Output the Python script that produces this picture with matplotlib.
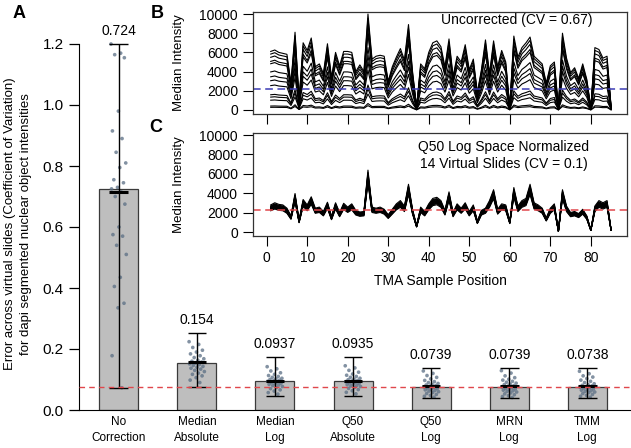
import numpy as np
import matplotlib
matplotlib.use('Agg')
import matplotlib.pyplot as plt

plt.rcParams['font.family'] = ['Liberation Sans', 'DejaVu Sans']

################### panel A data: CV across virtual slides ##################
methods = ['No\nCorrection', 'Median\nAbsolute', 'Median\nLog', 'Q50\nAbsolute',
           'Q50\nLog', 'MRN\nLog', 'TMM\nLog']
mean_cv = [0.724, 0.154, 0.0937, 0.0935, 0.0739, 0.0739, 0.0738]
mean_labels = ['0.724', '0.154', '0.0937', '0.0935', '0.0739', '0.0739', '0.0738']
err_low = [0.073, 0.076, 0.046, 0.046, 0.038, 0.038, 0.038]
err_high = [1.20, 0.251, 0.175, 0.175, 0.139, 0.139, 0.139]
mid_mark = [0.714, 0.156, 0.095, 0.095, 0.080, 0.080, 0.080]
target_cv = 0.0739

pts_none = [1.20, 1.17, 1.165, 1.155, 0.98, 0.915, 0.89, 0.845, 0.81, 0.795, 0.755,
            0.745, 0.73, 0.725, 0.715, 0.70, 0.675, 0.60, 0.575, 0.57, 0.54, 0.51,
            0.435, 0.405, 0.35, 0.335, 0.178, 0.073]
pts_med_abs = [0.224, 0.215, 0.205, 0.196, 0.19, 0.184, 0.178, 0.172, 0.168, 0.163,
               0.16, 0.157, 0.154, 0.151, 0.149, 0.146, 0.143, 0.14, 0.137, 0.134,
               0.13, 0.126, 0.121, 0.117, 0.112, 0.106, 0.098, 0.09]
pts_med_log = [0.142, 0.135, 0.128, 0.122, 0.117, 0.113, 0.11, 0.107, 0.104, 0.102,
               0.1, 0.098, 0.096, 0.094, 0.092, 0.09, 0.088, 0.086, 0.084, 0.082,
               0.08, 0.077, 0.074, 0.07, 0.066, 0.062, 0.057, 0.052]
pts_q50_abs = [0.145, 0.138, 0.13, 0.124, 0.118, 0.114, 0.11, 0.107, 0.104, 0.101,
               0.099, 0.097, 0.095, 0.093, 0.091, 0.089, 0.087, 0.085, 0.083, 0.081,
               0.079, 0.077, 0.074, 0.071, 0.067, 0.063, 0.058, 0.053]
pts_q50_log = [0.128, 0.12, 0.113, 0.107, 0.102, 0.097, 0.093, 0.09, 0.087, 0.084,
               0.082, 0.08, 0.078, 0.076, 0.074, 0.072, 0.07, 0.068, 0.066, 0.064,
               0.062, 0.06, 0.057, 0.054, 0.051, 0.048, 0.045, 0.042]
pts_mrn_log = [0.129, 0.121, 0.112, 0.106, 0.101, 0.098, 0.094, 0.091, 0.088, 0.085,
               0.083, 0.08, 0.078, 0.075, 0.073, 0.071, 0.069, 0.067, 0.065, 0.063,
               0.061, 0.059, 0.056, 0.053, 0.05, 0.047, 0.044, 0.041]
pts_tmm_log = [0.127, 0.119, 0.112, 0.108, 0.103, 0.098, 0.094, 0.09, 0.086, 0.083,
               0.081, 0.079, 0.077, 0.075, 0.073, 0.071, 0.069, 0.067, 0.065, 0.063,
               0.061, 0.059, 0.057, 0.054, 0.051, 0.048, 0.045, 0.042]
points = [pts_none, pts_med_abs, pts_med_log, pts_q50_abs, pts_q50_log, pts_mrn_log, pts_tmm_log]

################### panel B / C data: median intensity per TMA position ##################
positions = list(range(1, 86))
# brightest virtual slide (uncorrected), other slides are scaled copies of it
uncorr_top = [6100, 6250, 6000, 5900, 5800, 2800, 8100, 1000, 7000, 6200,
              7500, 4500, 4800, 3800, 6900, 3400, 6000, 4600, 6100, 6100,
              6000, 4000, 4700, 4000, 10000, 5300, 5600, 5700, 5600, 3000,
              4500, 5500, 6400, 5200, 8900, 4000, 300, 4800, 4300, 6000,
              7000, 7200, 6600, 4500, 7400, 3500, 5600, 5000, 6800, 4200,
              5300, 1800, 4200, 7300, 3800, 7200, 4500, 6200, 5000, 300,
              7700, 5500, 6500, 7000, 7600, 5600, 5200, 4800, 2800, 4600,
              5000, 200, 8000, 5400, 3900, 4400, 3300, 4800, 3200, 200,
              6500, 6300, 5400, 5600, 300]
slide_scale = [1.0, 0.955, 0.9, 0.83, 0.79, 0.65, 0.567, 0.5, 0.416, 0.26,
               0.22, 0.167, 0.067, 0.045]
uncorr_median = 2200

q50_profile = [2500, 2700, 2550, 2500, 2200, 1500, 3550, 1100, 3000, 2500,
               3250, 2200, 2300, 1900, 2750, 1450, 2700, 1800, 2650, 2300,
               2600, 2000, 1850, 1900, 5700, 2300, 2200, 2300, 2100, 1600,
               2100, 2600, 2900, 2400, 4400, 2100, 600, 2300, 1900, 2600,
               3100, 3200, 2900, 2000, 3700, 1800, 2600, 2200, 2700, 1900,
               2500, 1000, 2000, 2200, 2900, 3900, 2100, 2600, 2500, 1000,
               4100, 2400, 2900, 3100, 4400, 2700, 2500, 2200, 1300, 2200,
               2600, 100, 3900, 2400, 1800, 1900, 1700, 2100, 1500, 200,
               2400, 2900, 2700, 2900, 200]
q50_gain = [0.88, 0.91, 0.93, 0.95, 0.96, 0.98, 0.99, 1.0, 1.01, 1.02,
            1.04, 1.06, 1.08, 1.12]
q50_median = 2300

W, H = 631, 448
def px_box(l, t, r, b):
    return [l / W, 1 - b / H, (r - l) / W, (b - t) / H]

fig = plt.figure(figsize=(W / 100, H / 100), dpi=100)

################### A: bar chart ##################
axA = fig.add_axes(px_box(79, 13.5, 631, 410))
x = np.arange(1, len(methods) + 1)
axA.bar(x, mean_cv, width=0.5, color='#bebebe', edgecolor='#3a3a3a', linewidth=0.9, zorder=2)
for xi, vals in zip(x, points):
    n = len(vals)
    jit = ((np.arange(n) * 0.618) % 1 - 0.5) * 0.2
    axA.scatter(xi + jit, vals, s=7, color='#5a6e84', alpha=0.75, edgecolors='none', zorder=3)
axA.vlines(x, err_low, err_high, color='black', lw=1, zorder=4)
axA.hlines(err_low, x - 0.12, x + 0.12, color='black', lw=1, zorder=4)
axA.hlines(err_high, x - 0.12, x + 0.12, color='black', lw=1, zorder=4)
axA.hlines(mid_mark, x - 0.12, x + 0.12, color='black', lw=2.2, zorder=4)
axA.axhline(target_cv, color='#e0474c', ls=(0, (4, 3)), lw=1, zorder=5)
for xi, top, lab in zip(x, err_high, mean_labels):
    axA.annotate(lab, (xi, top), xytext=(0, 6.5), textcoords='offset points',
                 ha='center', va='baseline', fontsize=10)

axA.set_xlim(0.49, 7.56)
axA.set_ylim(0, 1.3)
axA.set_yticks(np.arange(0, 1.21, 0.2))
axA.set_yticklabels(['%.1f' % v for v in np.arange(0, 1.21, 0.2)], fontsize=11)
axA.set_xticks(x)
axA.set_xticklabels(methods, fontsize=8.5, linespacing=1.5)
axA.tick_params(axis='x', length=0, pad=4)
axA.tick_params(axis='y', length=7.5, width=0.9, pad=3.5)
axA.spines['top'].set_visible(False)
axA.spines['right'].set_visible(False)
axA.spines['left'].set_bounds(0, 1.2)
axA.patch.set_alpha(0)
axA.set_ylabel('Error across virtual slides (Coefficient of Variation)\n'
               'for dapi segmented nuclear object intensities', fontsize=9.5, linespacing=1.4)
axA.yaxis.set_label_coords(-0.085, 0.47)

################### B: uncorrected medians ##################
axB = fig.add_axes(px_box(253.3, 11.7, 627.3, 114.3))
for s in slide_scale:
    axB.plot(positions, np.array(uncorr_top) * s, color='black', lw=0.8)
axB.axhline(uncorr_median, color='#3c3cb4', ls=(0, (5, 3)), lw=1.1)
axB.set_xlim(-3.3, 89.0)
axB.set_ylim(-450, 10240)
axB.set_xticks(range(0, 81, 10))
axB.set_xticklabels([])
axB.set_yticks(range(0, 10001, 2000))
axB.tick_params(labelsize=10, length=7, pad=4)
axB.set_ylabel('Median Intensity', fontsize=9.5)
axB.yaxis.set_label_coords(-0.183, 0.5)
axB.text(0.906, 0.92, 'Uncorrected (CV = 0.67)', transform=axB.transAxes,
         ha='right', va='center', fontsize=10)

################### C: Q50 log space normalized ##################
axC = fig.add_axes(px_box(253.3, 132.7, 627.3, 236))
for g in q50_gain:
    axC.plot(positions, np.array(q50_profile) * g, color='black', lw=0.8)
axC.axhline(q50_median, color='#e0474c', ls=(0, (5, 3)), lw=1.1)
axC.set_xlim(-3.3, 89.0)
axC.set_ylim(-400, 10240)
axC.set_xticks(range(0, 81, 10))
axC.set_yticks(range(0, 10001, 2000))
axC.tick_params(labelsize=10, length=7, pad=4)
axC.set_ylabel('Median Intensity', fontsize=9.5)
axC.yaxis.set_label_coords(-0.183, 0.5)
axC.set_xlabel('TMA Sample Position', fontsize=10, labelpad=6)
axC.text(0.67, 0.78, 'Q50 Log Space Normalized\n14 Virtual Slides (CV = 0.1)',
         transform=axC.transAxes, ha='center', va='center', fontsize=10, linespacing=1.3)

for ax in (axB, axC):
    for sp in ax.spines.values():
        sp.set_linewidth(0.9)
        sp.set_color('#333333')

fig.text(19 / W, 1 - 13 / H, 'A', fontsize=13, fontweight='bold', ha='center', va='center')
fig.text(157 / W, 1 - 13 / H, 'B', fontsize=13, fontweight='bold', ha='center', va='center')
fig.text(156 / W, 1 - 128 / H, 'C', fontsize=13, fontweight='bold', ha='center', va='center')

plt.savefig('out.png', dpi=100)
